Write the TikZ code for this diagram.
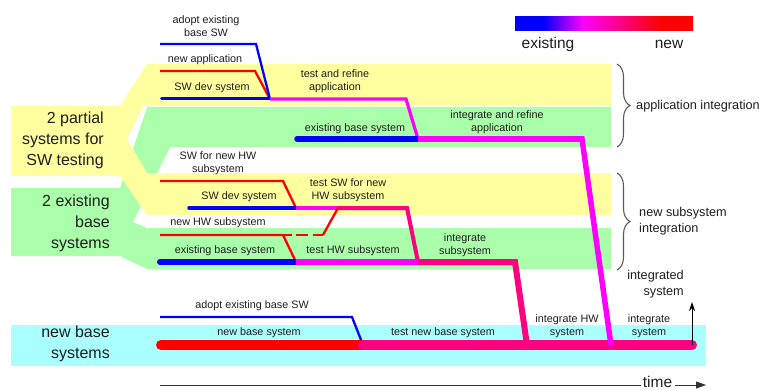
\documentclass[tikz,border=0pt]{standalone}
\usepackage{fontspec}
\setmainfont{Liberation Sans}
\usetikzlibrary{arrows.meta,decorations.pathreplacing}

\definecolor{bandyellow}{RGB}{255,255,160}
\definecolor{bandgreen}{RGB}{170,255,170}
\definecolor{bandcyan}{RGB}{170,255,255}
\definecolor{oldblue}{RGB}{0,0,255}
\definecolor{newred}{RGB}{255,0,0}
\definecolor{mixmag}{RGB}{255,0,255}
\definecolor{deeppink}{RGB}{255,0,128}
\definecolor{txt}{RGB}{30,30,30}
\definecolor{bracegray}{RGB}{90,90,90}

% blue (existing) -> magenta -> red (new)
\pgfdeclarehorizontalshading{legendbar}{100bp}{color(0bp)=(oldblue); color(33bp)=(oldblue); color(44bp)=(mixmag); color(66bp)=(newred); color(100bp)=(newred)}

\begin{document}
\begin{tikzpicture}[x=1pt,y=-1pt,
  lbl/.style={font=\fontsize{10.8}{13.5}\selectfont, text=txt, align=center, inner sep=0pt},
  big/.style={font=\fontsize{16}{21}\selectfont, text=txt, align=right, inner sep=0pt},
  side/.style={font=\fontsize{12.7}{16}\selectfont, text=txt, inner sep=0pt},
  legendtxt/.style={font=\fontsize{15.5}{18}\selectfont, text=txt, inner sep=0pt},
  thinln/.style={line width=2.3pt},
  bracestyle/.style={decorate, decoration={brace,amplitude=13pt}, draw=bracegray, line width=1.1pt},
  line join=miter]
\useasboundingbox (0,0) rectangle (759,390);

% ---------- background bands ----------
\fill[bandgreen] (11,188) -- (120,188) -- (147,107) -- (611,107) -- (611,147) -- (170,147)
  -- (133,222) -- (147,228) -- (611,228) -- (611,269) -- (147,269) -- (120,256) -- (11,256) -- cycle;
\fill[bandyellow] (11,106) -- (120,106) -- (147,64) -- (611,64) -- (611,106) -- (143,106)
  -- (127,139) -- (147,173) -- (611,173) -- (611,215) -- (147,215) -- (120,176) -- (11,176) -- cycle;
\fill[bandcyan] (11,325) rectangle (706,366);

% ---------- legend ----------
\shade[shading=legendbar] (515,17) rectangle (693,31);
\node[legendtxt] (lgold) at (548,44) {existing};
\node[legendtxt] (lgnew) at (669,44) {new};

% ---------- group labels ----------
\node[big, anchor=east] (gpart) at (104,140) {2 partial\\systems for\\SW testing};
\node[big, anchor=east] (gexist) at (110,223) {2 existing\\base\\systems};
\node[big, anchor=east] (gnew) at (110,343.5) {new base\\systems};

% ---------- coordinates ----------
\coordinate (a1) at (160,44);  \coordinate (a2) at (256,44);
\coordinate (b1) at (160,71);  \coordinate (b2) at (255,71);
\coordinate (c1) at (161.5,99);
\coordinate (j1) at (270,99);
\coordinate (d1) at (406,99);
\coordinate (e0) at (297,139);
\coordinate (j2) at (418,139);
\coordinate (e1) at (582,139);
\coordinate (f)  at (611,345);

\coordinate (g1) at (160,181); \coordinate (g2) at (283,181);
\coordinate (h1) at (189,208);
\coordinate (k1) at (296,208);
\coordinate (m)  at (338,208);
\coordinate (n1) at (407,208);
\coordinate (p1) at (160,235); \coordinate (p2) at (283,235);
\coordinate (q) at (323,235);
\coordinate (r1) at (160,262);
\coordinate (k2) at (296,262);
\coordinate (k3) at (418,262);
\coordinate (s1) at (515,262);
\coordinate (s2) at (527,345);

\coordinate (t1) at (160,317); \coordinate (t2) at (352,317);
\coordinate (v1) at (161,345);
\coordinate (u)  at (363,345);
\coordinate (w)  at (692,345);
\coordinate (wi) at (692,302);
\coordinate (ta) at (160,385); \coordinate (tb) at (641,385);
\coordinate (tc) at (675,385); \coordinate (td) at (706,385);

% ---------- application integration ----------
\draw[newred, thinln] (b1) -- (b2) -- (j1);
\draw[oldblue, thinln] (a1) -- (a2) -- (j1);
\draw[oldblue, line width=3pt, line cap=round] (c1) -- (j1);
\draw[mixmag, line width=3.2pt] (j1) -- (d1) -- (j2);
\draw[oldblue, line width=5.5pt, line cap=round] (e0) -- (j2);
\draw[mixmag, line width=5.5pt] (j2) -- (e1);

% ---------- new subsystem integration ----------
\draw[newred, thinln] (g1) -- (g2) -- (k1);
\draw[oldblue, line width=3.5pt, line cap=round] (h1) -- (k1);
\draw[mixmag, line width=4pt] (k1) -- (m);
\draw[deeppink, line width=4pt] (m) -- (n1) -- (k3);
\draw[newred, thinln] (p1) -- (p2) -- (k2);
\draw[newred, thinln, dash pattern=on 9pt off 3.5pt on 12.5pt off 5pt on 20pt] (p2) -- (q);
\draw[newred, thinln] (q) -- (m);
\draw[oldblue, line width=6pt, line cap=round] (r1) -- (k2);
\draw[mixmag, line width=5.5pt] (k2) -- (k3);
\draw[deeppink, line width=6pt] (k3) -- (s1) -- (s2);

% ---------- new base system ----------
\draw[oldblue, thinln] (t1) -- (t2) -- (u);
\draw[newred, line width=10pt, line cap=round] (v1) -- (u);
\draw[deeppink, line width=10pt, line cap=round] (u) -- (w);
\draw[mixmag, line width=5.5pt] (j2) -- (e1) -- (f);
\draw[-{Stealth[length=9pt,width=6pt]}, line width=0.9pt] (w) -- (wi);

% ---------- time axis ----------
\draw[line width=0.8pt, black!80] (ta) -- (tb);
\node[legendtxt, anchor=base] (time) at (657.5,387) {time};
\draw[line width=0.8pt, black!80, -{Triangle[length=10pt,width=7pt]}] (tc) -- (td);

% ---------- braces ----------
\draw[bracestyle] (617,64) -- (617,147);
\draw[bracestyle] (617,173) -- (617,270);
\node[side, anchor=west] (appint) at (636,106) {application integration};
\node[side, anchor=west, align=left] (subint) at (639,221) {new subsystem\\integration};
\node[side, anchor=east, align=right] (intsys) at (684,284) {integrated\\system};

% ---------- step labels ----------
\node[lbl] (l1) at (206,26) {adopt existing\\base SW};
\node[lbl] (l2) at (205,60) {new application};
\node[lbl] (l3) at (212,88) {SW dev system};
\node[lbl] (l4) at (335,81) {test and refine\\application};
\node[lbl] (l5) at (355,129) {existing base system};
\node[lbl] (l6) at (497,122) {integrate and refine\\application};
\node[lbl] (l7) at (218,163) {SW for new HW\\subsystem};
\node[lbl] (l8) at (239,197) {SW dev system};
\node[lbl] (l9) at (348,190) {test SW for new\\HW subsystem};
\node[lbl] (l10) at (218,223) {new HW subsystem};
\node[lbl] (l11) at (225,251) {existing base system};
\node[lbl] (l12) at (353,251) {test HW subsystem};
\node[lbl] (l13) at (465,245) {integrate\\subsystem};
\node[lbl] (l14) at (252,306) {adopt existing base SW};
\node[lbl] (l15) at (259,333) {new base system};
\node[lbl] (l16) at (443,333) {test new base system};
\node[lbl] (l17) at (567,326) {integrate HW\\system};
\node[lbl] (l18) at (649,326) {integrate\\system};
\end{tikzpicture}
\end{document}
